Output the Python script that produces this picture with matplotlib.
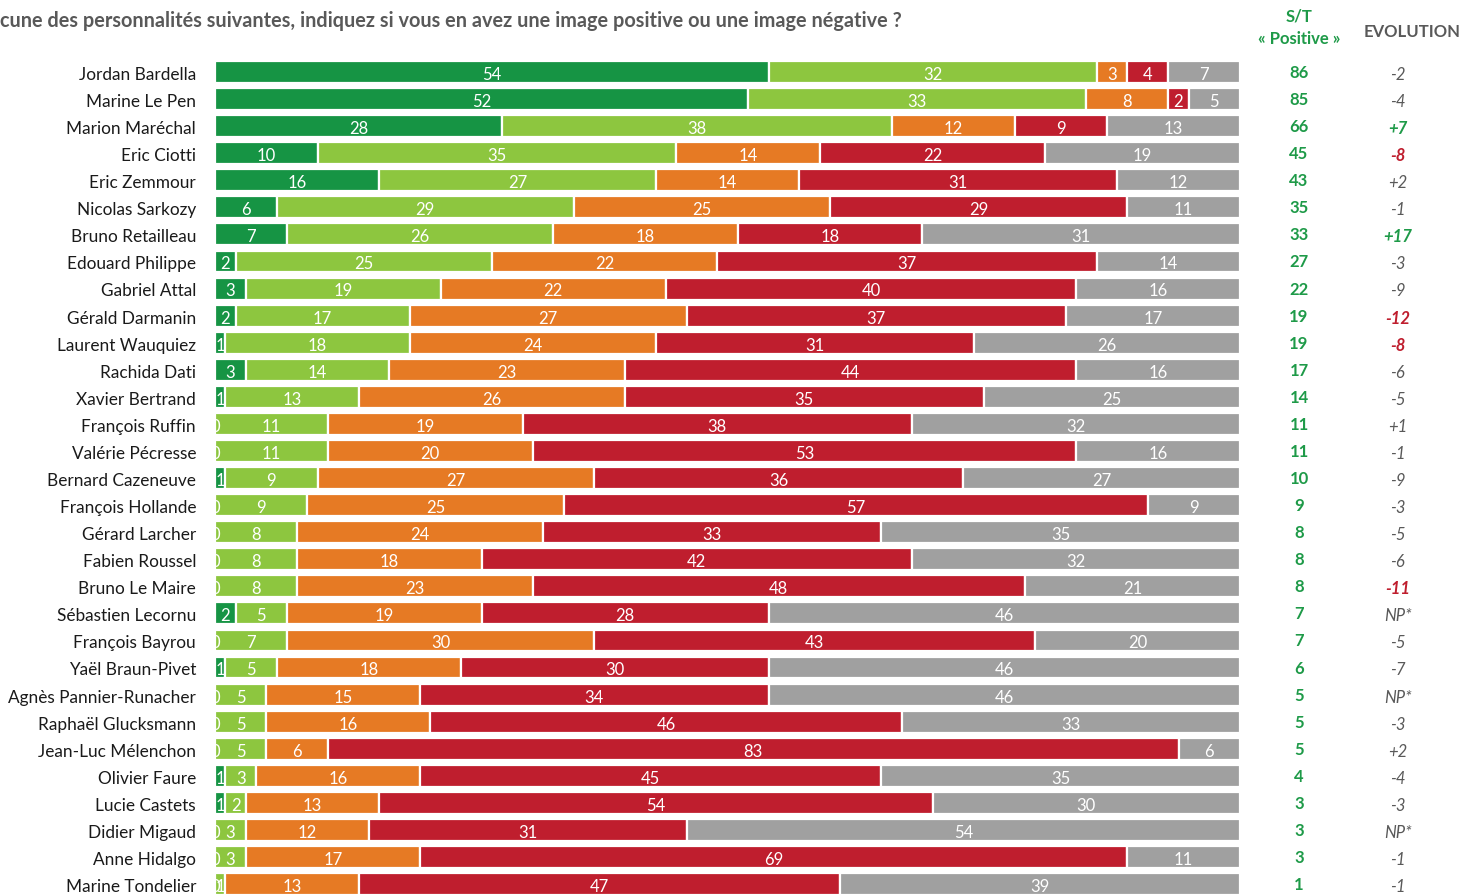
import matplotlib
matplotlib.use("Agg")
import matplotlib.pyplot as plt

plt.rcParams['font.family'] = ['Lato', 'DejaVu Sans']

names = ["Jordan Bardella", "Marine Le Pen", "Marion Maréchal", "Eric Ciotti",
         "Eric Zemmour", "Nicolas Sarkozy", "Bruno Retailleau", "Edouard Philippe",
         "Gabriel Attal", "Gérald Darmanin", "Laurent Wauquiez", "Rachida Dati",
         "Xavier Bertrand", "François Ruffin", "Valérie Pécresse", "Bernard Cazeneuve",
         "François Hollande", "Gérard Larcher", "Fabien Roussel", "Bruno Le Maire",
         "Sébastien Lecornu", "François Bayrou", "Yaël Braun-Pivet",
         "Agnès Pannier-Runacher", "Raphaël Glucksmann", "Jean-Luc Mélenchon",
         "Olivier Faure", "Lucie Castets", "Didier Migaud", "Anne Hidalgo",
         "Marine Tondelier"]

tres_positive = [54, 52, 28, 10, 16, 6, 7, 2, 3, 2, 1, 3, 1, 0, 0, 1, 0, 0, 0, 0,
                 2, 0, 1, 0, 0, 0, 1, 1, 0, 0, 0]
plutot_positive = [32, 33, 38, 35, 27, 29, 26, 25, 19, 17, 18, 14, 13, 11, 11, 9, 9, 8, 8, 8,
                   5, 7, 5, 5, 5, 5, 3, 2, 3, 3, 1]
plutot_negative = [3, 8, 12, 14, 14, 25, 18, 22, 22, 27, 24, 23, 26, 19, 20, 27, 25, 24, 18, 23,
                   19, 30, 18, 15, 16, 6, 16, 13, 12, 17, 13]
tres_negative = [4, 2, 9, 22, 31, 29, 18, 37, 40, 37, 31, 44, 35, 38, 53, 36, 57, 33, 42, 48,
                 28, 43, 30, 34, 46, 83, 45, 54, 31, 69, 47]
nsp = [7, 5, 13, 19, 12, 11, 31, 14, 16, 17, 26, 16, 25, 32, 16, 27, 9, 35, 32, 21,
       46, 20, 46, 46, 33, 6, 35, 30, 54, 11, 39]

st_positive = [86, 85, 66, 45, 43, 35, 33, 27, 22, 19, 19, 17, 14, 11, 11, 10, 9, 8, 8, 8,
               7, 7, 6, 5, 5, 5, 4, 3, 3, 3, 1]
evolution = ["-2", "-4", "+7", "-8", "+2", "-1", "+17", "-3", "-9", "-12", "-8", "-6",
             "-5", "+1", "-1", "-9", "-3", "-5", "-6", "-11", "NP*", "-5", "-7", "NP*",
             "-3", "+2", "-4", "-3", "NP*", "-1", "-1"]

series = [tres_positive, plutot_positive, plutot_negative, tres_negative, nsp]
colors = ["#169444", "#8dc63f", "#e67a24", "#bf1e2e", "#a0a0a0"]
green_txt = "#1e9a48"
red_txt = "#bf1e2e"
grey_txt = "#595959"

fig = plt.figure(figsize=(14.62, 8.95), dpi=100)
ax = fig.add_axes([215 / 1462, 0, 1025 / 1462, 1])

dy = 0.07  # small downward nudge so text sits centred on the bars
y = list(range(len(names)))
left = [0] * len(names)
for vals, col in zip(series, colors):
    ax.barh(y, vals, left=left, height=0.81, color=col, edgecolor="white", linewidth=1.6)
    for i, v in enumerate(vals):
        ax.text(left[i] + v / 2, i + dy, str(v), ha="center", va="center", color="white",
                fontsize=12, clip_on=True)
    left = [l + v for l, v in zip(left, vals)]

ax.set_xlim(0, 100)
ax.set_ylim(30.366, -2.697)
ax.axis("off")

tr = ax.get_yaxis_transform()
for i, n in enumerate(names):
    ax.text(-0.0185, i + dy, n, transform=tr, ha="right", va="center",
            fontsize=12.4, color="#1a1a1a", clip_on=False)
    ax.text(1.0576, i, str(st_positive[i]), transform=tr, ha="center",
            va="center", fontsize=12, fontweight="bold", color=green_txt, clip_on=False)
    ev = evolution[i]
    if ev in ("+7", "+17"):
        c, w = green_txt, "bold"
    elif ev in ("-8", "-12", "-11"):
        c, w = red_txt, "bold"
    else:
        c, w = grey_txt, "normal"
    ax.text(1.154, i + dy, ev, transform=tr, ha="center", va="center",
            fontsize=12, fontstyle="italic", fontweight=w, color=c, clip_on=False)

ax.text(-0.2098, -1.92, "cune des personnalités suivantes, indiquez si vous en avez une image "
        "positive ou une image négative ?", transform=tr,
        ha="left", va="center", fontsize=14.3, fontweight="bold", color=grey_txt, clip_on=False)
ax.text(1.0576, -2.07, "S/T", transform=tr, ha="center", va="center",
        fontsize=12, fontweight="bold", color=green_txt, clip_on=False)
ax.text(1.0576, -1.26, "« Positive »", transform=tr, ha="center",
        va="center", fontsize=12, fontweight="bold", color=green_txt, clip_on=False)
ax.text(1.168, -1.51, "EVOLUTION", transform=tr, ha="center",
        va="center", fontsize=12, fontweight="bold", color=grey_txt, clip_on=False)

fig.savefig("out.png", dpi=100, facecolor="white")
